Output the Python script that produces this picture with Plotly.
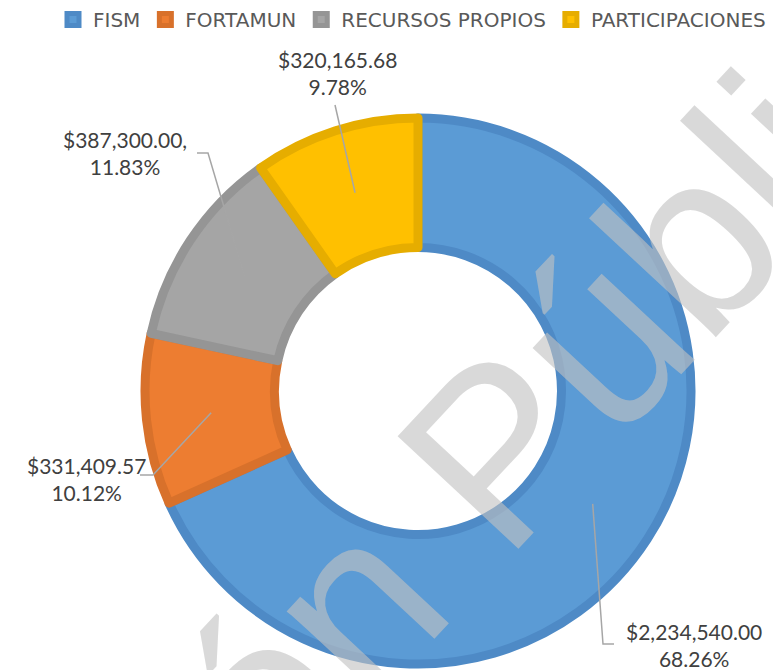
import math
import plotly.graph_objects as go

# ---- data ----
categories = ["FISM", "FORTAMUN", "RECURSOS PROPIOS", "PARTICIPACIONES"]
values = [2234540.00, 331409.57, 387300.00, 320165.68]
value_labels = ["$2,234,540.00", "$331,409.57", "$387,300.00,", "$320,165.68"]
pct_labels = ["68.26%", "10.12%", "11.83%", "9.78%"]

fill_colors = ["#5B9BD5", "#ED7D31", "#A5A5A5", "#FFC000"]
edge_colors = ["#4E8AC6", "#D8712B", "#959595", "#E6AD00"]

W, H = 773, 670
cx, cy = 418, 391          # pie centre (px, from top-left)
r_geo = 273                # geometric outer radius (px)
stroke = 9

fig = go.Figure()
fig.add_trace(go.Pie(
    labels=categories, values=values, sort=False, direction="clockwise",
    rotation=0, hole=143.5 / 273,
    marker=dict(colors=fill_colors, line=dict(color=edge_colors, width=stroke)),
    textinfo="none", hoverinfo="label+value+percent",
    domain=dict(x=[(cx - r_geo) / W, (cx + r_geo) / W],
                y=[(H - cy - r_geo) / H, (H - cy + r_geo) / H]),
))

# label positions (px) and leader line elbows
label_pos = [(694, 645), (86, 479), (125, 153), (337, 73)]
elbows = [[(603, 644), (614, 644)],
          [(153, 475), (140, 475)],
          [(208, 153), (197, 153)],
          [(335, 105)]]

total = sum(values)
cum = 0.0
shapes = []
annotations = []
for i, v in enumerate(values):
    mid = (cum + v / 2) / total * 2 * math.pi
    cum += v
    sx = cx + 208 * math.sin(mid)
    sy = cy - 208 * math.cos(mid)
    pts = [(sx, sy)] + elbows[i]
    path = "M " + " L ".join(f"{x / W:.5f},{1 - y / H:.5f}" for x, y in pts)
    shapes.append(dict(type="path", xref="paper", yref="paper", path=path,
                       line=dict(color="#A6A6A6", width=1.5)))
    lx, ly = label_pos[i]
    annotations.append(dict(
        x=lx / W, y=1 - ly / H, xref="paper", yref="paper",
        text=f"{value_labels[i]}<br>{pct_labels[i]}", showarrow=False,
        xanchor="center", yanchor="middle", align="center",
        font=dict(family="Lato", size=21, color="#404040")))

# watermark
annotations.append(dict(
    x=417 / W, y=1 - 536 / H, xref="paper", yref="paper", text="Versión Pública",
    showarrow=False, textangle=-47, xanchor="center", yanchor="middle",
    font=dict(family="Liberation Sans", size=240, color="rgba(194,194,194,0.62)")))

fig.update_layout(
    width=W, height=H, margin=dict(l=0, r=0, t=0, b=0),
    paper_bgcolor="white", plot_bgcolor="white",
    showlegend=True,
    legend=dict(orientation="h", x=53 / W, y=1.0, xanchor="left", yanchor="top",
                font=dict(family="DejaVu Sans", size=20, color="#595959"),
                itemclick=False, traceorder="normal"),
    shapes=shapes, annotations=annotations,
)

fig.write_html("out.html", config={"displayModeBar": False},
               post_script="document.body.style.margin='0';document.body.style.overflow='hidden';")
